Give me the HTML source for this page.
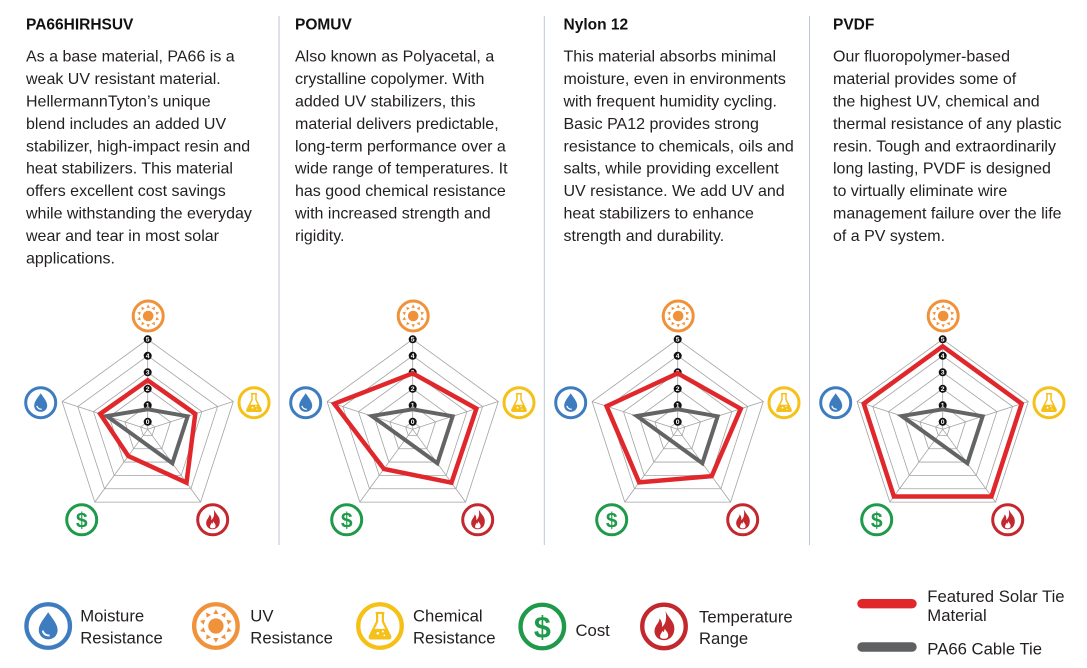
<!DOCTYPE html>
<html><head><meta charset="utf-8"><style>
html,body{margin:0;padding:0;background:#fff;}
svg{display:block;}
.h{font-family:"Liberation Sans",sans-serif;font-weight:bold;font-size:15.5px;fill:#111;}
.b{font-family:"Liberation Sans",sans-serif;font-size:16px;fill:#231f20;}
.l{font-family:"Liberation Sans",sans-serif;font-size:16.7px;fill:#231f20;}
.n{font-family:"Liberation Sans",sans-serif;font-weight:bold;font-size:6.8px;fill:#fff;text-anchor:middle;}
.d{font-family:"Liberation Sans",sans-serif;font-weight:bold;fill:#1f9a4a;text-anchor:middle;}
</style></head><body>
<svg width="1087" height="668" viewBox="0 0 1087 668" xmlns="http://www.w3.org/2000/svg">
<defs>
 <g id="grid" fill="none" stroke="#a3a3a3" stroke-width="0.8">
  <polygon points="0,-7.5 7.13,-2.32 4.41,6.07 -4.41,6.07 -7.13,-2.32"/>
  <polygon points="0,-24 22.83,-7.42 14.11,19.42 -14.11,19.42 -22.83,-7.42"/>
  <polygon points="0,-40.5 38.52,-12.51 23.81,32.76 -23.81,32.76 -38.52,-12.51"/>
  <polygon points="0,-57 54.21,-17.61 33.5,46.11 -33.5,46.11 -54.21,-17.61"/>
  <polygon points="0,-73.5 69.9,-22.71 43.2,59.46 -43.2,59.46 -69.9,-22.71"/>
  <polygon points="0,-90 85.6,-27.81 52.9,72.81 -52.9,72.81 -85.6,-27.81"/>
  <path d="M0,0 L0,-90 M0,0 L85.6,-27.81 M0,0 L52.9,72.81 M0,0 L-52.9,72.81 M0,0 L-85.6,-27.81"/>
 </g>
 <g id="iUV">
  <circle r="15" fill="#fff" stroke="#f0923a" stroke-width="3"/>
  <circle r="5.3" fill="#f0923a"/>
  <g fill="#f0923a">
   <path d="M0,-11.5 L1.8,-8.3 L-1.8,-8.3Z"/>
   <path d="M0,-11.5 L1.8,-8.3 L-1.8,-8.3Z" transform="rotate(36)"/>
   <path d="M0,-11.5 L1.8,-8.3 L-1.8,-8.3Z" transform="rotate(72)"/>
   <path d="M0,-11.5 L1.8,-8.3 L-1.8,-8.3Z" transform="rotate(108)"/>
   <path d="M0,-11.5 L1.8,-8.3 L-1.8,-8.3Z" transform="rotate(144)"/>
   <path d="M0,-11.5 L1.8,-8.3 L-1.8,-8.3Z" transform="rotate(180)"/>
   <path d="M0,-11.5 L1.8,-8.3 L-1.8,-8.3Z" transform="rotate(216)"/>
   <path d="M0,-11.5 L1.8,-8.3 L-1.8,-8.3Z" transform="rotate(252)"/>
   <path d="M0,-11.5 L1.8,-8.3 L-1.8,-8.3Z" transform="rotate(288)"/>
   <path d="M0,-11.5 L1.8,-8.3 L-1.8,-8.3Z" transform="rotate(324)"/>
  </g>
 </g>
 <g id="iMo">
  <circle r="15" fill="#fff" stroke="#3e7cc0" stroke-width="3"/>
  <path d="M0,-9.5 C2.5,-5.5 6.5,-1.5 6.5,2.8 C6.5,6.6 3.6,9.2 0,9.2 C-3.6,9.2 -6.5,6.6 -6.5,2.8 C-6.5,-1.5 -2.5,-5.5 0,-9.5Z" fill="#3e7cc0"/>
  <path d="M-3.8,3.2 Q-3,6.6 1,6.6" fill="none" stroke="#fff" stroke-width="1.3"/>
 </g>
 <g id="iCh">
  <circle r="15" fill="#fff" stroke="#f5c018" stroke-width="3"/>
  <path d="M-3,-9 L3,-9 M-2,-9 L-2,-3 L-7,7 Q-7.5,8.6 -6,8.6 L6,8.6 Q7.5,8.6 7,7 L2,-3 L2,-9" fill="none" stroke="#f5c018" stroke-width="1.5"/>
  <path d="M-4.6,2 L4.6,2 L7,7 Q7.5,8.6 6,8.6 L-6,8.6 Q-7.5,8.6 -7,7Z" fill="#f5c018"/>
  <circle cx="-1.5" cy="5" r="0.9" fill="#fff"/><circle cx="2" cy="3.8" r="0.7" fill="#fff"/><circle cx="3" cy="6.5" r="0.6" fill="#fff"/>
 </g>
 <g id="iCo">
  <circle r="15" fill="#fff" stroke="#1f9a4a" stroke-width="3"/>
 </g>
 <g id="iTe">
  <circle r="15" fill="#fff" stroke="#c3282f" stroke-width="3"/>
  <path d="M1,-10.5 C3.5,-5 8,-3 7,3 C6.5,7 3.5,9.5 0,9.5 C-4,9.5 -7,6.5 -6.5,2.5 C-6,-1 -3.5,-2 -3,-5.5 C-1.5,-3.5 -1,-1.5 -1.5,0.5 C0.8,-1.5 2.2,-4.5 1,-10.5Z" fill="#c3282f"/>
  <path d="M0.5,1.5 C2,4 3.6,5 2.6,7.5 C1.6,9 -1.6,9 -2.6,7.5 C-3.1,6 -1.6,4.5 -1.1,3 C-0.6,4 0,4.5 0.5,1.5Z" fill="#fff"/>
 </g>
</defs>

<!-- separators -->
<g stroke="#bcc6d2" stroke-width="1">
 <line x1="279" y1="16" x2="279" y2="545"/>
 <line x1="544.3" y1="16" x2="544.3" y2="545"/>
 <line x1="809.5" y1="16" x2="809.5" y2="545"/>
</g>

<!-- column 1 -->
<text class="h" x="26" y="29.3">PA66HIRHSUV</text>
<g class="b">
<text x="26" y="61.7">As a base material, PA66 is a</text>
<text x="26" y="84.1">weak UV resistant material.</text>
<text x="26" y="106.5">HellermannTyton’s unique</text>
<text x="26" y="128.9">blend includes an added UV</text>
<text x="26" y="151.3">stabilizer, high-impact resin and</text>
<text x="26" y="173.7">heat stabilizers. This material</text>
<text x="26" y="196.1">offers excellent cost savings</text>
<text x="26" y="218.5">while withstanding the everyday</text>
<text x="26" y="240.9">wear and tear in most solar</text>
<text x="26" y="263.3">applications.</text>
</g>

<!-- column 2 -->
<text class="h" x="295" y="29.3">POMUV</text>
<g class="b">
<text x="295" y="61.7">Also known as Polyacetal, a</text>
<text x="295" y="84.1">crystalline copolymer. With</text>
<text x="295" y="106.5">added UV stabilizers, this</text>
<text x="295" y="128.9">material delivers predictable,</text>
<text x="295" y="151.3">long-term performance over a</text>
<text x="295" y="173.7">wide range of temperatures. It</text>
<text x="295" y="196.1">has good chemical resistance</text>
<text x="295" y="218.5">with increased strength and</text>
<text x="295" y="240.9">rigidity.</text>
</g>

<!-- column 3 -->
<text class="h" x="563.5" y="29.3">Nylon 12</text>
<g class="b">
<text x="563.5" y="61.7">This material absorbs minimal</text>
<text x="563.5" y="84.1">moisture, even in environments</text>
<text x="563.5" y="106.5">with frequent humidity cycling.</text>
<text x="563.5" y="128.9">Basic PA12 provides strong</text>
<text x="563.5" y="151.3">resistance to chemicals, oils and</text>
<text x="563.5" y="173.7">salts, while providing excellent</text>
<text x="563.5" y="196.1">UV resistance. We add UV and</text>
<text x="563.5" y="218.5">heat stabilizers to enhance</text>
<text x="563.5" y="240.9">strength and durability.</text>
</g>

<!-- column 4 -->
<text class="h" x="833" y="29.3">PVDF</text>
<g class="b">
<text x="833" y="61.7">Our fluoropolymer-based</text>
<text x="833" y="84.1">material provides some of</text>
<text x="833" y="106.5">the highest UV, chemical and</text>
<text x="833" y="128.9">thermal resistance of any plastic</text>
<text x="833" y="151.3">resin. Tough and extraordinarily</text>
<text x="833" y="173.7">long lasting, PVDF is designed</text>
<text x="833" y="196.1">to virtually eliminate wire</text>
<text x="833" y="218.5">management failure over the life</text>
<text x="833" y="240.9">of a PV system.</text>
</g>

<!-- chart 1 -->
<g transform="translate(147.7,429.3)">
 <use href="#grid"/>
 <g fill="#111"><circle cy="-7.5" r="4"/><circle cy="-24" r="4"/><circle cy="-40.5" r="4"/><circle cy="-57" r="4"/><circle cy="-73.5" r="4"/><circle cy="-90" r="4"/></g>
 <text class="n" y="-5.1">0</text><text class="n" y="-21.6">1</text><text class="n" y="-38.1">2</text><text class="n" y="-54.6">3</text><text class="n" y="-71.1">4</text><text class="n" y="-87.6">5</text>
 <polygon points="0,-20 39.95,-12.98 24.69,33.98 -7.64,10.52 -40.9,-13.29" fill="none" stroke="#636466" stroke-width="4"/>
 <polygon points="0,-49 47.56,-15.45 38.79,53.39 -19.4,26.7 -47.56,-15.45" fill="none" stroke="#e0282c" stroke-width="4.5"/>
 <use href="#iUV" x="0.5" y="-113.3"/>
 <use href="#iCh" x="106.3" y="-26.6"/>
 <use href="#iMo" x="-107" y="-26.6"/>
 <use href="#iTe" x="65" y="90.5"/>
 <use href="#iCo" x="-66" y="90.5"/>
 <text class="d" x="-66" y="98" font-size="21">$</text>
</g>

<!-- chart 2 -->
<g transform="translate(412.7,429.3)">
 <use href="#grid"/>
 <g fill="#111"><circle cy="-7.5" r="4"/><circle cy="-24" r="4"/><circle cy="-40.5" r="4"/><circle cy="-57" r="4"/><circle cy="-73.5" r="4"/><circle cy="-90" r="4"/></g>
 <text class="n" y="-5.1">0</text><text class="n" y="-21.6">1</text><text class="n" y="-38.1">2</text><text class="n" y="-54.6">3</text><text class="n" y="-71.1">4</text><text class="n" y="-87.6">5</text>
 <polygon points="0,-20 39.95,-12.98 24.69,33.98 -7.64,10.52 -40.9,-13.29" fill="none" stroke="#636466" stroke-width="4"/>
 <polygon points="0,-56 63.72,-20.7 38.79,53.39 -28.8,39.64 -78.47,-25.49" fill="none" stroke="#e0282c" stroke-width="4.5"/>
 <use href="#iUV" x="0.5" y="-113.3"/>
 <use href="#iCh" x="106.3" y="-26.6"/>
 <use href="#iMo" x="-107" y="-26.6"/>
 <use href="#iTe" x="65" y="90.5"/>
 <use href="#iCo" x="-66" y="90.5"/>
 <text class="d" x="-66" y="98" font-size="21">$</text>
</g>

<!-- chart 3 -->
<g transform="translate(677.7,429.3)">
 <use href="#grid"/>
 <g fill="#111"><circle cy="-7.5" r="4"/><circle cy="-24" r="4"/><circle cy="-40.5" r="4"/><circle cy="-57" r="4"/><circle cy="-73.5" r="4"/><circle cy="-90" r="4"/></g>
 <text class="n" y="-5.1">0</text><text class="n" y="-21.6">1</text><text class="n" y="-38.1">2</text><text class="n" y="-54.6">3</text><text class="n" y="-71.1">4</text><text class="n" y="-87.6">5</text>
 <polygon points="0,-20 39.95,-12.98 24.69,33.98 -7.64,10.52 -40.9,-13.29" fill="none" stroke="#636466" stroke-width="4"/>
 <polygon points="0,-56 63.06,-20.49 34.03,46.84 -38.56,53.07 -71.14,-23.11" fill="none" stroke="#e0282c" stroke-width="4.5"/>
 <use href="#iUV" x="0.5" y="-113.3"/>
 <use href="#iCh" x="106.3" y="-26.6"/>
 <use href="#iMo" x="-107" y="-26.6"/>
 <use href="#iTe" x="65" y="90.5"/>
 <use href="#iCo" x="-66" y="90.5"/>
 <text class="d" x="-66" y="98" font-size="21">$</text>
</g>

<!-- chart 4 -->
<g transform="translate(942.7,429.3)">
 <use href="#grid"/>
 <g fill="#111"><circle cy="-7.5" r="4"/><circle cy="-24" r="4"/><circle cy="-40.5" r="4"/><circle cy="-57" r="4"/><circle cy="-73.5" r="4"/><circle cy="-90" r="4"/></g>
 <text class="n" y="-5.1">0</text><text class="n" y="-21.6">1</text><text class="n" y="-38.1">2</text><text class="n" y="-54.6">3</text><text class="n" y="-71.1">4</text><text class="n" y="-87.6">5</text>
 <polygon points="0,-20 39.95,-12.98 24.69,33.98 -7.64,10.52 -40.9,-13.29" fill="none" stroke="#636466" stroke-width="4"/>
 <polygon points="0,-83 78.94,-25.65 48.79,67.15 -48.79,67.15 -78.94,-25.65" fill="none" stroke="#e0282c" stroke-width="4.5"/>
 <use href="#iUV" x="0.5" y="-113.3"/>
 <use href="#iCh" x="106.3" y="-26.6"/>
 <use href="#iMo" x="-107" y="-26.6"/>
 <use href="#iTe" x="65" y="90.5"/>
 <use href="#iCo" x="-66" y="90.5"/>
 <text class="d" x="-66" y="98" font-size="21">$</text>
</g>

<!-- legend -->
<g transform="translate(48.2,626) scale(1.45)"><use href="#iMo"/></g>
<text class="l" x="80.2" y="621.3">Moisture</text>
<text class="l" x="80.2" y="643.4">Resistance</text>

<g transform="translate(215.9,626) scale(1.45)"><use href="#iUV"/></g>
<text class="l" x="250.3" y="621.3">UV</text>
<text class="l" x="250.3" y="643.4">Resistance</text>

<g transform="translate(380,626) scale(1.45)"><use href="#iCh"/></g>
<text class="l" x="413" y="621.3">Chemical</text>
<text class="l" x="413" y="643.4">Resistance</text>

<g transform="translate(542.3,626.5) scale(1.45)"><use href="#iCo"/><text class="d" x="0" y="7.5" font-size="21">$</text></g>
<text class="l" x="575.5" y="635.8">Cost</text>

<g transform="translate(664,626.4) scale(1.45)"><use href="#iTe"/></g>
<text class="l" x="699" y="622.6">Temperature</text>
<text class="l" x="699" y="643.9">Range</text>

<line x1="862" y1="603.7" x2="912" y2="603.7" stroke="#e0282c" stroke-width="9.4" stroke-linecap="round"/>
<line x1="862" y1="647" x2="912" y2="647" stroke="#5f6062" stroke-width="9.4" stroke-linecap="round"/>
<text class="l" x="927.3" y="602">Featured Solar Tie</text>
<text class="l" x="927.3" y="621.2">Material</text>
<text class="l" x="927.3" y="654.3">PA66 Cable Tie</text>
</svg>
</body></html>
